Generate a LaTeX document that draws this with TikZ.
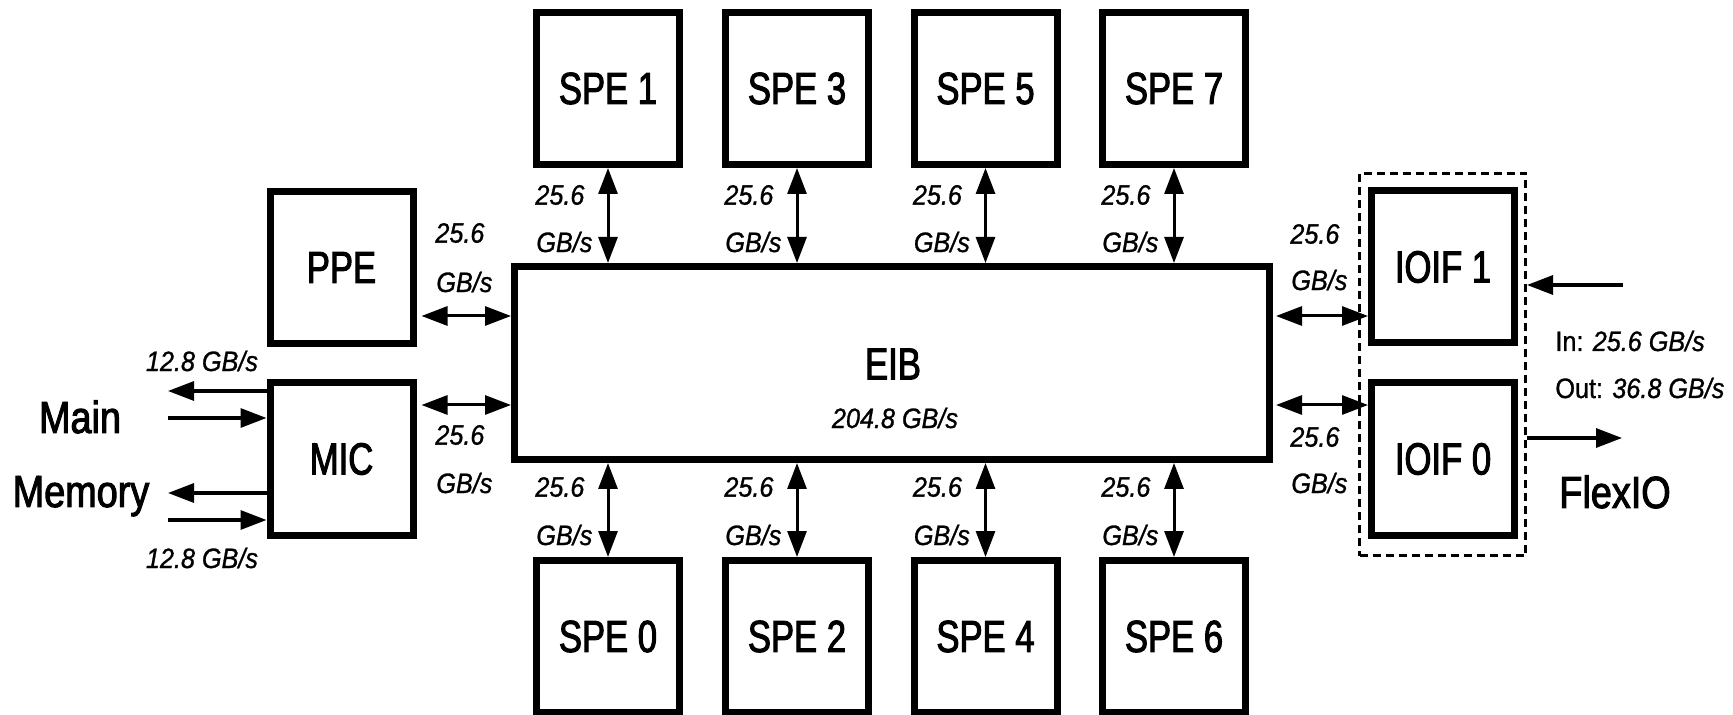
\documentclass[tikz,border=0pt]{standalone}
\usepackage{fontspec}
\setmainfont{Liberation Sans}
\newfontfamily\boxfont[FakeStretch=0.77,FakeBold=2.2]{Liberation Sans}
\newfontfamily\bigfont[FakeStretch=0.84,FakeBold=2.2]{Liberation Sans}
\newfontfamily\labfont[FakeStretch=0.9,FakeBold=1]{Liberation Sans}
\usetikzlibrary{arrows.meta}
\begin{document}
\begin{tikzpicture}[x=0.5pt,y=-0.5pt,
  blk/.style={draw, line width=3.5pt, minimum width=71.5pt, minimum height=76pt, inner sep=0pt,
    font=\boxfont\fontsize{22.5}{27}\selectfont},
  big/.style={inner sep=0pt, font=\bigfont\fontsize{22.5}{27}\selectfont},
  lab/.style={inner sep=0pt, anchor=west, font=\labfont\itshape\fontsize{14}{17}\selectfont},
  labup/.style={inner sep=0pt, anchor=base west, font=\labfont\fontsize{14}{17}\selectfont},
  tip/.tip={Triangle[length=13pt,width=9.5pt]},
  bi/.style={line width=1.5pt, tip-tip},
  uni/.style={line width=1.6pt, -tip},
  dashbox/.style={draw, line width=1.5pt, dash pattern=on 4pt off 2.5pt, inner sep=0pt}
]
\useasboundingbox (0,0) rectangle (1733,715);

% SPE boxes
\foreach \i/\x in {1/608,3/797,5/985.5,7/1174}
  \node[blk] (spe\i) at (\x,88.5) {SPE \i};
\foreach \i/\x in {0/608,2/797,4/985.5,6/1174}
  \node[blk] (spe\i) at (\x,636.5) {SPE \i};

% EIB
\node[draw, line width=3.5pt, minimum width=377.5pt, minimum height=96.5pt, inner sep=0pt] (eib) at (892,363) {};
\node[inner sep=0pt, font=\boxfont\fontsize{22.5}{27}\selectfont] (eibname) at (893,364) {EIB};
\node[lab, anchor=center] (eibrate) at (895,418) {204.8 GB/s};

% side boxes
\node[blk] (ppe) at (341.5,267.5) {PPE};
\node[blk] (mic) at (341.5,459) {MIC};
\node[dashbox, minimum width=83pt, minimum height=191pt] (ioif) at (1442.5,364.5) {};
\node[blk] (ioif1) at (1443,267) {IOIF 1};
\node[blk] (ioif0) at (1443,459) {IOIF 0};

% SPE <-> EIB
\foreach \i/\x in {1/608,3/797,5/985.5,7/1174}{
  \draw[bi] (spe\i.south) -- (spe\i.south |- eib.north);
  \node[lab] (ta\i) at (\x-73,195) {25.6};
  \node[lab] (tb\i) at (\x-72,242) {GB/s};
}
\foreach \i/\x in {0/608,2/797,4/985.5,6/1174}{
  \draw[bi] (spe\i.north) -- (spe\i.north |- eib.south);
  \node[lab] (ba\i) at (\x-73,487) {25.6};
  \node[lab] (bb\i) at (\x-72,535) {GB/s};
}

% horizontal links
\coordinate (yA) at (0,316);
\coordinate (yB) at (0,405);
\draw[bi, shorten <=2.5pt] (ppe.east |- yA) -- (eib.west |- yA);
\draw[bi, shorten <=2.5pt] (mic.east |- yB) -- (eib.west |- yB);
\draw[bi, shorten <=1.5pt] (eib.east |- yA) -- (ioif1.west |- yA);
\draw[bi, shorten <=1.5pt] (eib.east |- yB) -- (ioif0.west |- yB);
\node[lab] (la1) at (435,233) {25.6};
\node[lab] (lb1) at (436,282) {GB/s};
\node[lab] (la2) at (435,435) {25.6};
\node[lab] (lb2) at (436,483) {GB/s};
\node[lab] (ra1) at (1290,234) {25.6};
\node[lab] (rb1) at (1291,280) {GB/s};
\node[lab] (ra2) at (1290,437) {25.6};
\node[lab] (rb2) at (1291,483) {GB/s};

% main memory
\coordinate (m1) at (168,391);
\coordinate (m2) at (168,418);
\coordinate (m3) at (168,493);
\coordinate (m4) at (168,520);
\draw[uni] (mic.west |- m1) -- (m1);
\draw[uni] (m2) -- (mic.west |- m2);
\draw[uni] (mic.west |- m3) -- (m3);
\draw[uni] (m4) -- (mic.west |- m4);
\node[lab, anchor=center] (mr1) at (202,361) {12.8 GB/s};
\node[lab, anchor=center] (mr2) at (202,558) {12.8 GB/s};
\node[big, anchor=base] (mainlbl) at (80,433) {Main};
\node[big, anchor=base] (memlbl) at (81,507) {Memory};

% FlexIO
\coordinate (f1) at (1623,285);
\coordinate (f2) at (1622,438);
\draw[uni] (f1) -- (ioif.east |- f1);
\draw[uni] (ioif.east |- f2) -- (f2);
\node[labup] (inrate) at (1555,351) {In: {\itshape 25.6 GB/s}};
\node[labup] (outrate) at (1555,398) {Out: {\itshape 36.8 GB/s}};
\node[big, anchor=base] (flex) at (1615,508) {FlexIO};
\end{tikzpicture}
\end{document}
